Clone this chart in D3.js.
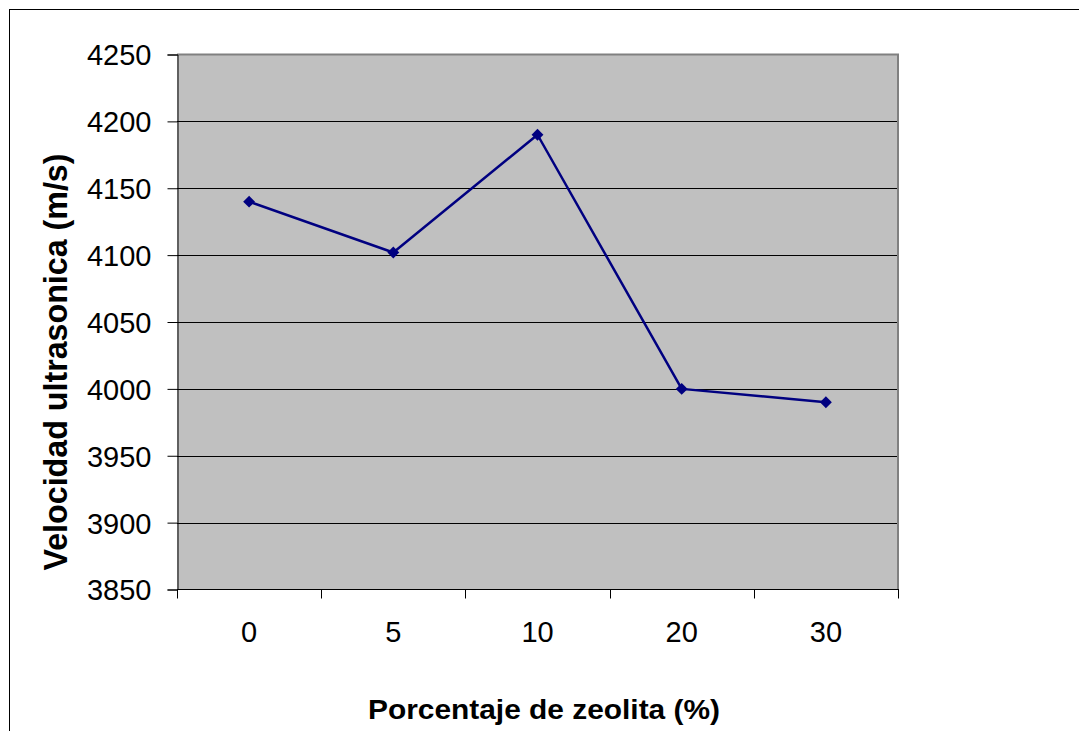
<!DOCTYPE html>
<html>
<head>
<meta charset="utf-8">
<script src="https://cdn.jsdelivr.net/npm/d3@7"></script>
<style>
  body { margin: 0; background: #fff; }
  svg text { font-family: "Liberation Sans", Arial, sans-serif; fill: #000; }
</style>
</head>
<body>
<div id="chart"></div>
<script>
// porcentaje de zeolita vs velocidad ultrasonica
const categories = ['0', '5', '10', '20', '30'];
const velocity = [4140, 4102, 4190, 4000, 3990];
const yTicks = [3850, 3900, 3950, 4000, 4050, 4100, 4150, 4200, 4250];

const width = 1079,
      height = 731;

const plot = { left: 177, right: 898, top: 54.5, bottom: 589.5 };

const svg = d3.select('#chart')
  .append('svg')
  .attr('width', width)
  .attr('height', height);

// outer chart frame (runs off the right / bottom edge)
svg.append('rect')
  .attr('x', 9.5)
  .attr('y', 9.5)
  .attr('width', 1200)
  .attr('height', 900)
  .attr('fill', '#fff')
  .attr('stroke', '#000')
  .attr('stroke-width', 1);

const x = d3.scaleBand()
  .domain(categories)
  .range([plot.left, plot.right])
  .paddingInner(0)
  .paddingOuter(0);

const y = d3.scaleLinear()
  .domain([3850, 4250])
  .range([plot.bottom, plot.top]);

// plot area
svg.append('rect')
  .attr('x', plot.left)
  .attr('y', plot.top)
  .attr('width', plot.right - plot.left)
  .attr('height', plot.bottom - plot.top)
  .attr('fill', '#c0c0c0');

// grid lines
svg.append('g')
  .selectAll('line')
  .data(yTicks.slice(1, -1))
  .enter()
  .append('line')
  .attr('x1', plot.left)
  .attr('x2', plot.right)
  .attr('y1', d => Math.round(y(d)) + 0.5)
  .attr('y2', d => Math.round(y(d)) + 0.5)
  .attr('stroke', '#000')
  .attr('stroke-width', 1);

// grey border top + right
svg.append('path')
  .attr('d', `M${plot.left},${plot.top} H${plot.right} V${plot.bottom}`)
  .attr('fill', 'none')
  .attr('stroke', '#808080')
  .attr('stroke-width', 2);

// y axis
const yAxis = d3.axisLeft(y)
  .tickValues(yTicks)
  .tickSize(10)
  .tickPadding(16)
  .tickFormat(d3.format('d'));

const gy = svg.append('g')
  .attr('transform', 'translate(' + (plot.left + 0.5) + ',0)')
  .call(yAxis);
gy.select('.domain').attr('stroke', '#000');
gy.selectAll('.tick line').attr('stroke', '#000');
gy.selectAll('.tick text')
  .attr('font-size', 29)
  .attr('font-family', '"Liberation Sans", Arial, sans-serif')
  .attr('dy', '0.36em');

// x axis: labels at band centres, ticks at band edges
const xAxis = d3.axisBottom(x)
  .tickSize(0)
  .tickPadding(0);

const gx = svg.append('g')
  .attr('transform', 'translate(0,' + plot.bottom + ')')
  .call(xAxis);
gx.select('.domain').remove();
gx.selectAll('.tick text')
  .attr('font-size', 29)
  .attr('font-family', '"Liberation Sans", Arial, sans-serif')
  .attr('dy', null)
  .attr('y', 52.5);

const edges = categories.map(c => x(c)).concat([x.range()[1]]);
svg.append('g')
  .selectAll('line')
  .data(edges)
  .enter()
  .append('line')
  .attr('x1', d => Math.round(d) + 0.5)
  .attr('x2', d => Math.round(d) + 0.5)
  .attr('y1', plot.bottom)
  .attr('y2', plot.bottom + 9)
  .attr('stroke', '#000');

svg.append('line')
  .attr('x1', plot.left)
  .attr('x2', plot.right + 1)
  .attr('y1', plot.bottom)
  .attr('y2', plot.bottom)
  .attr('stroke', '#000')
  .attr('stroke-width', 1);

// series line
const line = d3.line()
  .x((d, i) => x(categories[i]) + x.bandwidth() / 2)
  .y(d => y(d));

svg.append('path')
  .datum(velocity)
  .attr('d', line)
  .attr('fill', 'none')
  .attr('stroke', '#000080')
  .attr('stroke-width', 2.5)
  .attr('stroke-linejoin', 'round');

svg.append('g')
  .selectAll('path')
  .data(velocity)
  .enter()
  .append('path')
  .attr('d', d3.symbol().type(d3.symbolDiamond2).size(90))
  .attr('transform', (d, i) => 'translate(' + (x(categories[i]) + x.bandwidth() / 2) + ',' + y(d) + ')')
  .attr('fill', '#000080');

// axis titles
svg.append('text')
  .attr('x', 544)
  .attr('y', 719)
  .attr('text-anchor', 'middle')
  .attr('font-size', 28)
  .attr('font-weight', 'bold')
  .attr('textLength', 352)
  .attr('lengthAdjust', 'spacingAndGlyphs')
  .text('Porcentaje de zeolita (%)');

svg.append('text')
  .attr('transform', 'translate(67,362) rotate(-90)')
  .attr('text-anchor', 'middle')
  .attr('font-size', 33)
  .attr('font-weight', 'bold')
  .attr('textLength', 417)
  .attr('lengthAdjust', 'spacingAndGlyphs')
  .text('Velocidad ultrasonica (m/s)');
</script>
</body>
</html>
